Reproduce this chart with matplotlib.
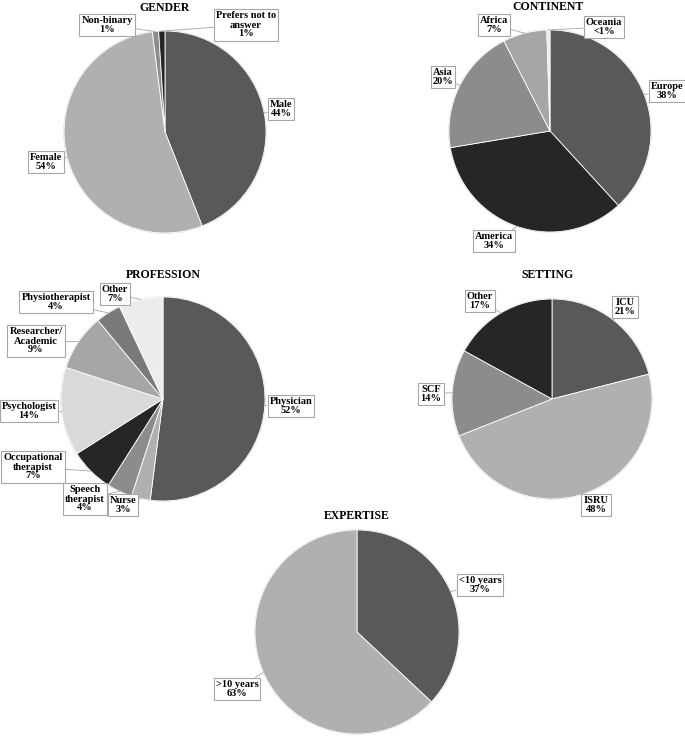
import matplotlib
matplotlib.use("Agg")
import matplotlib.pyplot as plt
from matplotlib.patches import Circle
import numpy as np

# ---------------- data ----------------
gender_labels = ['Male', 'Female', 'Non-binary', 'Prefers not to\nanswer']
gender_values = [44, 54, 1, 1]
gender_pct = ['44%', '54%', '1%', '1%']

continent_labels = ['Europe', 'America', 'Asia', 'Africa', 'Oceania']
continent_values = [38, 34, 20, 7, 0.5]
continent_pct = ['38%', '34%', '20%', '7%', '<1%']

profession_labels = ['Physician', 'Nurse', 'Speech\ntherapist', 'Occupational\ntherapist',
                     'Psychologist', 'Researcher/\nAcademic', 'Physiotherapist', 'Other']
profession_values = [52, 3, 4, 7, 14, 9, 4, 7]
profession_pct = ['52%', '3%', '4%', '7%', '14%', '9%', '4%', '7%']

setting_labels = ['ICU', 'ISRU', 'SCF', 'Other']
setting_values = [21, 48, 14, 17]
setting_pct = ['21%', '48%', '14%', '17%']

expertise_labels = ['<10 years', '>10 years']
expertise_values = [37, 63]
expertise_pct = ['37%', '63%']

# ---------------- styles ----------------
gender_colors = ['#595959', '#b0b0b0', '#8c8c8c', '#262626']
continent_colors = ['#595959', '#262626', '#8c8c8c', '#a6a6a6', '#e6e6e6']
profession_colors = ['#595959', '#b0b0b0', '#8c8c8c', '#262626', '#d9d9d9', '#a6a6a6', '#7a7a7a', '#ececec']
setting_colors = ['#595959', '#b0b0b0', '#8c8c8c', '#262626']
expertise_colors = ['#595959', '#b0b0b0']

W, H = 685, 736
FONT = ['Liberation Serif', 'DejaVu Serif']

fig = plt.figure(figsize=(W / 100, H / 100), dpi=100)
ax = fig.add_axes([0, 0, 1, 1])


def draw(title, labels, pcts, values, colors, center, radius, title_pos, label_pos):
    cx, cy = center
    c = (cx, H - cy)
    wedges, _ = ax.pie(values, colors=colors, startangle=90, counterclock=False,
                       center=c, radius=radius,
                       wedgeprops=dict(edgecolor='white', linewidth=0.6))
    ax.add_patch(Circle(c, radius, fill=False, edgecolor='#d4d4d4', lw=1.0, zorder=0.5))
    ax.text(title_pos[0], H - title_pos[1], title, ha='center', va='center',
            fontsize=8.5, fontweight='bold', family=FONT)
    for w, lab, pct, (lx, ly) in zip(wedges, labels, pcts, label_pos):
        ang = np.deg2rad((w.theta1 + w.theta2) / 2)
        pt = (c[0] + radius * np.cos(ang), c[1] + radius * np.sin(ang))
        ax.annotate(f"{lab}\n{pct}", xy=pt, xytext=(lx, H - ly), ha='center', va='center',
                    fontsize=7.5, fontweight='bold', family=FONT, linespacing=1.0,
                    bbox=dict(boxstyle='square,pad=0.2', fc='white', ec='#a6a6a6', lw=0.8),
                    arrowprops=dict(arrowstyle='-', color='#a6a6a6', lw=0.6,
                                    shrinkA=0, shrinkB=0),
                    zorder=5)


draw('GENDER', gender_labels, gender_pct, gender_values, gender_colors,
     (165, 132), 101, (165, 8),
     [(281, 109), (46, 162), (107, 25), (246, 25)])

draw('CONTINENT', continent_labels, continent_pct, continent_values, continent_colors,
     (550, 131), 101, (548, 7),
     [(667, 91), (494, 241), (443, 77), (494, 25), (604, 27)])

draw('PROFESSION', profession_labels, profession_pct, profession_values, profession_colors,
     (163, 399), 102, (163, 275),
     [(291, 406), (123, 505), (85, 499), (33, 467), (29, 411), (36, 341), (56, 302), (115, 294)])

draw('SETTING', setting_labels, setting_pct, setting_values, setting_colors,
     (552, 399), 100, (548, 275),
     [(625, 307), (596, 505), (431, 394), (480, 301)])

draw('EXPERTISE', expertise_labels, expertise_pct, expertise_values, expertise_colors,
     (357, 632), 102, (357, 516),
     [(480, 585), (237, 689)])

ax.set_xlim(0, W)
ax.set_ylim(0, H)
ax.set_aspect('equal')
ax.axis('off')

fig.savefig('out.png', dpi=100, facecolor='white')
